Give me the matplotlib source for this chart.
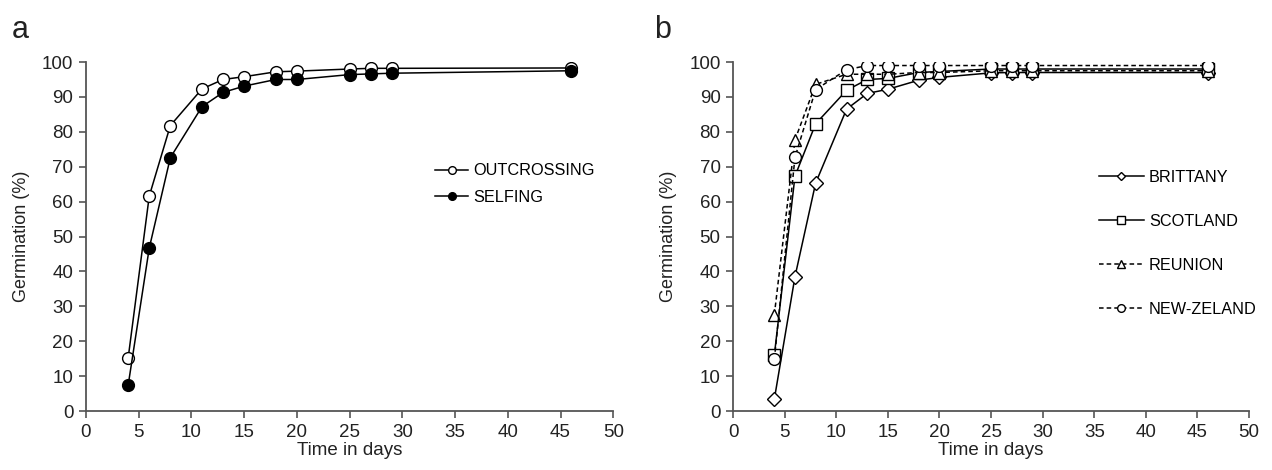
import matplotlib.pyplot as plt
from matplotlib.ticker import MultipleLocator

plt.rcParams['font.family'] = ['Liberation Sans', 'DejaVu Sans']

# Datos
dias = [4, 6, 8, 11, 13, 15, 18, 20, 25, 27, 29, 46]
outcrossing = [15.2, 61.6, 81.8, 92.3, 95.0, 95.8, 97.2, 97.4, 98.0, 98.2, 98.2, 98.3]
selfing = [7.4, 46.7, 72.6, 87.2, 91.3, 93.1, 95.0, 95.0, 96.4, 96.6, 96.8, 97.5]

brittany = [3.4, 38.5, 65.3, 86.5, 91.0, 92.2, 94.8, 95.6, 96.9, 97.0, 97.0, 97.0]
scotland = [16.0, 67.3, 82.3, 91.9, 95.0, 95.3, 97.0, 97.3, 98.0, 98.0, 98.0, 98.0]
reunion = [27.6, 77.7, 93.6, 96.5, 96.5, 96.5, 97.0, 97.0, 97.5, 97.5, 97.5, 97.5]
new_zeland = [14.8, 72.7, 92.1, 97.8, 99.0, 99.0, 99.0, 99.0, 99.0, 99.0, 99.0, 99.0]

fig = plt.figure(figsize=(12.72, 4.7), dpi=100)
ax1 = fig.add_axes([0.0676, 0.1255, 0.4145, 0.7425])
ax2 = fig.add_axes([0.5763, 0.1255, 0.4057, 0.7425])

ms = 8.5
lw = 1.1
comun = dict(color="black", linewidth=lw, markersize=ms, markeredgewidth=1.0)

ax1.plot(dias, outcrossing, marker="o", markerfacecolor="white", label="OUTCROSSING", **comun)
ax1.plot(dias, selfing, marker="o", markerfacecolor="black", label="SELFING", **comun)

ax2.plot(dias, brittany, marker="D", markerfacecolor="white", label="BRITTANY",
         color="black", linewidth=lw, markersize=7, markeredgewidth=1.0)
ax2.plot(dias, scotland, marker="s", markerfacecolor="white", label="SCOTLAND", **comun)
ax2.plot(dias, reunion, marker="^", markerfacecolor="white", label="REUNION",
         linestyle=(0, (3, 2)), **comun)
ax2.plot(dias, new_zeland, marker="o", markerfacecolor="white", label="NEW-ZELAND",
         linestyle=(0, (3, 2)), **comun)

for ax in [ax1, ax2]:
    ax.set_xlim(0, 50)
    ax.set_ylim(0, 100)
    ax.xaxis.set_major_locator(MultipleLocator(5))
    ax.yaxis.set_major_locator(MultipleLocator(10))
    ax.spines["top"].set_visible(False)
    ax.spines["right"].set_visible(False)
    for s in ["left", "bottom"]:
        ax.spines[s].set_color("#555555")
        ax.spines[s].set_linewidth(1.3)
    ax.tick_params(direction="out", length=5, width=1.2, color="#555555",
                   labelsize=13.5, labelcolor="#222222", pad=4)
    ax.set_xlabel("Time in days", fontsize=13.5, color="#222222", labelpad=1)
    ax.set_ylabel("Germination (%)", fontsize=13, color="#222222", labelpad=9)

fig.text(0.009, 0.919, "a", fontsize=22, ha="left", va="baseline", color="#222222")
fig.text(0.514, 0.919, "b", fontsize=22, ha="left", va="baseline", color="#222222")

ax1.legend(loc="center left", bbox_to_anchor=(0.635, 0.65), frameon=False,
           fontsize=11.7, handlelength=2.0, handletextpad=0.3, labelspacing=0.7,
           markerscale=0.65)
ax2.legend(loc="center left", bbox_to_anchor=(0.68, 0.48), frameon=False,
           fontsize=11.7, handlelength=2.8, handletextpad=0.3, labelspacing=1.78,
           markerscale=0.65)

fig.savefig("out.png", dpi=100)
